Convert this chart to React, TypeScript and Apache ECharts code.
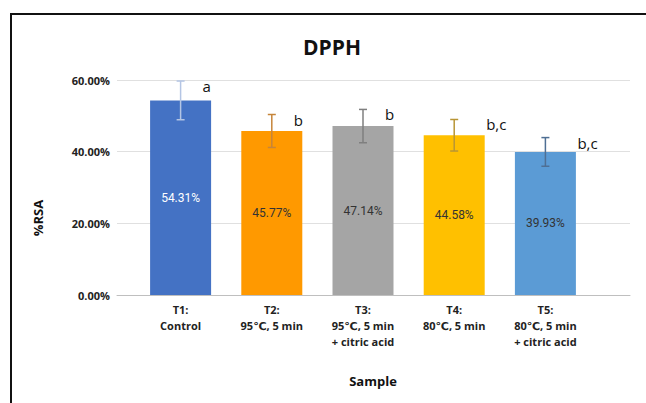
import React, { useEffect, useRef } from "react";
import * as echarts from "echarts";

const categories = [
  "T1:\nControl",
  "T2:\n95℃, 5 min",
  "T3:\n95℃, 5 min\n+ citric acid",
  "T4:\n80℃, 5 min",
  "T5:\n80℃, 5 min\n+ citric acid",
];
const values = [54.31, 45.77, 47.14, 44.58, 39.93];
const errors = [5.4, 4.6, 4.65, 4.4, 4.0];
const letters = ["a", "b", "b", "b,c", "b,c"];
const yMin = 0;
const yMax = 60;
const yInterval = 20;

const barColors = ["#4472C4", "#FF9900", "#A5A5A5", "#FFC000", "#5B9BD5"];
const errColors = ["#b4c5e4", "#c6853a", "#7f7f7f", "#b89535", "#4f6f94"];
const labelColors = ["#ffffff", "#333333", "#333333", "#333333", "#333333"];

const FONT = '"Open Sans", "DejaVu Sans", sans-serif';

export default function App() {
  const ref = useRef<HTMLDivElement>(null);
  useEffect(() => {
    if (!ref.current) return;
    const chart = echarts.init(ref.current, undefined, { renderer: "svg" });
    const option: any = {
      animation: false,
      backgroundColor: "#ffffff",
      grid: [
        { left: 117, right: 16, top: 80, bottom: 108 },
        { left: 135, right: 55, top: 80, bottom: 108 },
      ],
      xAxis: [
        {
          type: "value",
          gridIndex: 0,
          min: 0,
          max: 1,
          axisLine: { show: true, lineStyle: { color: "#bfbfbf", width: 1 } },
          axisTick: { show: false },
          axisLabel: { show: false },
          splitLine: { show: false },
        },
        {
          type: "category",
          gridIndex: 1,
          data: categories,
          axisLine: { show: false },
          axisTick: { show: false },
          axisLabel: {
            interval: 0,
            margin: 6,
            fontFamily: FONT,
            fontWeight: "bold",
            fontSize: 11,
            lineHeight: 16,
            color: "#222222",
          },
        },
      ],
      yAxis: [
        {
          type: "value",
          gridIndex: 0,
          min: yMin,
          max: yMax,
          interval: yInterval,
          axisLine: { show: false },
          axisTick: { show: false },
          axisLabel: {
            margin: 7,
            fontFamily: FONT,
            fontWeight: "bold",
            fontSize: 11,
            color: "#222222",
            formatter: (v: number) => v.toFixed(2) + "%",
          },
          splitLine: { show: true, lineStyle: { color: "#e0e0e0", width: 1 } },
        },
        {
          type: "value",
          gridIndex: 1,
          min: yMin,
          max: yMax,
          interval: yInterval,
          show: false,
          splitLine: { show: false },
        },
      ],
      series: [
        {
          type: "bar",
          xAxisIndex: 1,
          yAxisIndex: 1,
          barWidth: 61,
          data: values.map((v, i) => ({
            value: v,
            itemStyle: { color: barColors[i] },
            label: { color: labelColors[i] },
          })),
          label: {
            show: true,
            position: "inside",
            fontFamily: "Roboto, sans-serif",
            fontSize: 12,
            formatter: (p: any) => Number(p.value).toFixed(2) + "%",
          },
        },
        {
          type: "custom",
          xAxisIndex: 1,
          yAxisIndex: 1,
          data: values.map((v, i) => [i, v, errors[i]]),
          encode: { x: 0, y: 1 },
          z: 10,
          renderItem: (params: any, api: any) => {
            const i = api.value(0);
            const v = api.value(1);
            const e = api.value(2);
            const top = api.coord([i, v + e]);
            const bot = api.coord([i, v - e]);
            const idx = params.dataIndex;
            const c = errColors[idx];
            const ls = { stroke: c, lineWidth: 1.5 };
            const t = letters[idx];
            return {
              type: "group",
              children: [
                { type: "line", shape: { x1: top[0], y1: top[1], x2: bot[0], y2: bot[1] }, style: ls },
                { type: "line", shape: { x1: top[0] - 4, y1: top[1], x2: top[0] + 4, y2: top[1] }, style: ls },
                { type: "line", shape: { x1: bot[0] - 4, y1: bot[1], x2: bot[0] + 4, y2: bot[1] }, style: ls },
                {
                  type: "text",
                  style: {
                    text: t,
                    x: top[0] + 22 + (t.length > 1 ? 10 : 0),
                    y: top[1] + 5,
                    align: "left",
                    verticalAlign: "middle",
                    fontFamily: FONT,
                    fontSize: 15,
                    fill: "#111111",
                  },
                },
              ],
            };
          },
        },
      ],
      graphic: [
        {
          type: "rect",
          shape: { x: 11, y: 14, width: 700, height: 500 },
          style: { fill: "none", stroke: "#111111", lineWidth: 2 },
          z: 100,
        },
        {
          type: "text",
          x: 332,
          y: 47,
          style: {
            text: "DPPH",
            align: "center",
            verticalAlign: "middle",
            fontFamily: FONT,
            fontWeight: "bold",
            fontSize: 21,
            fill: "#111111",
          },
        },
        {
          type: "text",
          x: 38,
          y: 218,
          rotation: Math.PI / 2,
          style: {
            text: "%RSA",
            align: "center",
            verticalAlign: "middle",
            fontFamily: FONT,
            fontWeight: "bold",
            fontSize: 13,
            fill: "#111111",
          },
        },
        {
          type: "text",
          x: 373,
          y: 381,
          style: {
            text: "Sample",
            align: "center",
            verticalAlign: "middle",
            fontFamily: FONT,
            fontWeight: "bold",
            fontSize: 13,
            fill: "#111111",
          },
        },
      ],
    };
    chart.setOption(option);
    return () => chart.dispose();
  }, []);
  return (
    <div
      ref={ref}
      style={{ position: "absolute", left: 0, top: 0, width: 646, height: 403 }}
    />
  );
}
